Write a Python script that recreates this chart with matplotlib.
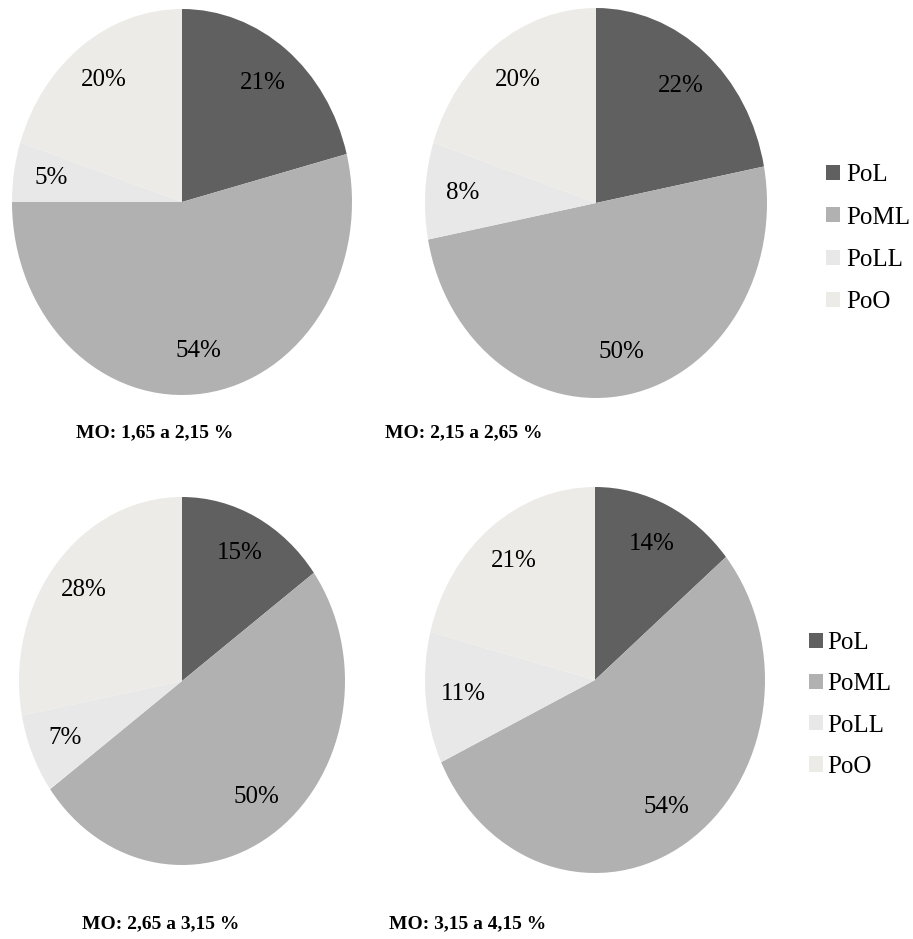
import matplotlib
matplotlib.use("Agg")
import matplotlib.pyplot as plt

# Fractions (%) of each category per organic-matter class
categories = ["PoL", "PoML", "PoLL", "PoO"]
titles = ["MO: 1,65 a 2,15 %", "MO: 2,15 a 2,65 %",
          "MO: 2,65 a 3,15 %", "MO: 3,15 a 4,15 %"]
mo_165_215 = [21, 54, 5, 20]
mo_215_265 = [22, 50, 8, 20]
mo_265_315 = [15, 50, 7, 28]
mo_315_415 = [14, 54, 11, 21]
series = [mo_165_215, mo_215_265, mo_265_315, mo_315_415]

colors = ["#606060", "#b1b1b1", "#e8e8e8", "#ecebe7"]

W, H = 913, 939
plt.rcParams["font.family"] = ["Liberation Serif", "DejaVu Serif"]
fig = plt.figure(figsize=(W / 100, H / 100), dpi=100)

# pie geometry in pixels: centre x, centre y, half-width, half-height
geom = [(182, 202, 170, 193), (596, 203, 171, 195),
        (182, 681, 163, 184), (595, 680, 170, 193)]
title_pos = [(155, 433), (464, 433), (161, 924), (468, 924)]

wedge_sets = []
for vals, (cx, cy, rx, ry), title, (tx, ty) in zip(series, geom, titles, title_pos):
    ax = fig.add_axes([(cx - rx) / W, 1 - (cy + ry) / H, 2 * rx / W, 2 * ry / H])
    wedges, texts, autotexts = ax.pie(
        vals, colors=colors, startangle=90, counterclock=False,
        autopct=lambda p: f"{p:.0f}%", pctdistance=0.78,
        wedgeprops=dict(linewidth=0),
        textprops=dict(fontsize=18, color="black"))
    ax.set_aspect("auto")
    ax.set_xlim(-1, 1)
    ax.set_ylim(-1, 1)
    wedge_sets.append(wedges)
    fig.text(tx / W, 1 - ty / H, title, ha="center", va="center",
             fontsize=14, fontweight="bold")

legend_kw = dict(frameon=False, fontsize=18, handlelength=0.56, handleheight=0.56,
                 borderpad=0, borderaxespad=0, loc="upper left")
fig.legend(wedge_sets[0], categories, bbox_to_anchor=(826 / W, 1 - 164 / H),
           handletextpad=0.25, labelspacing=0.82, **legend_kw)
fig.legend(wedge_sets[2], categories, bbox_to_anchor=(809 / W, 1 - 632 / H),
           handletextpad=0.18, labelspacing=0.77, **legend_kw)

fig.savefig("out.png", dpi=100)
